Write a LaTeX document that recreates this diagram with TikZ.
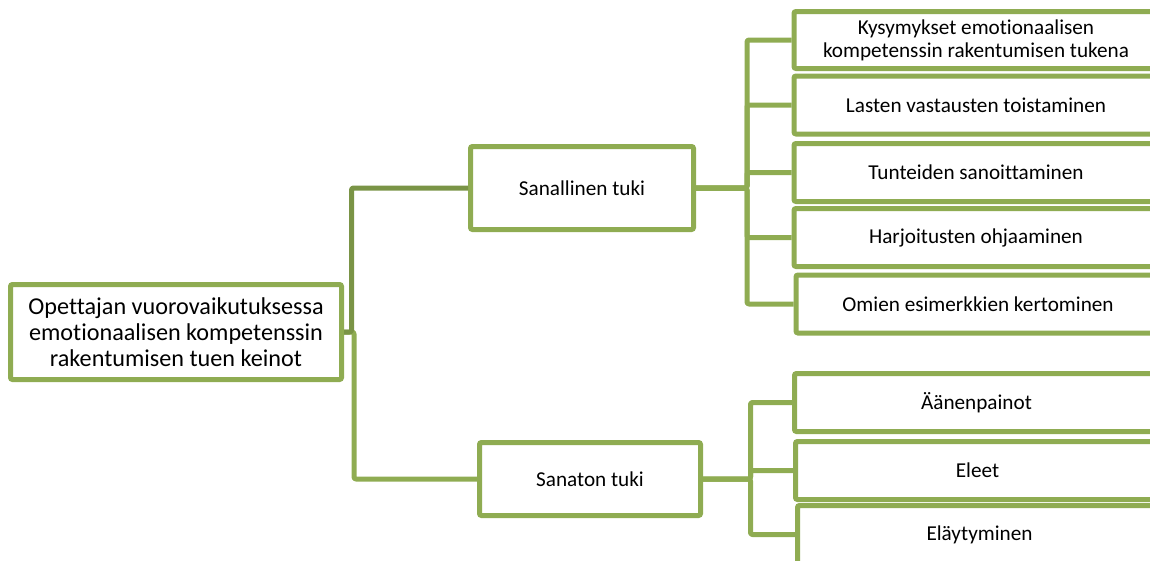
\documentclass[tikz,border=0pt]{standalone}
\usepackage{fontspec}
\setmainfont{Carlito}[RawFeature={-liga}]
\definecolor{boxgreen}{RGB}{143,172,82}
\definecolor{darkgreen}{RGB}{122,148,70}
\tikzset{
  box/.style={draw=boxgreen, line width=5pt, rounded corners=2pt, fill=white, align=center, inner sep=0pt, text=black},
  rootbox/.style={box, minimum width=331pt, minimum height=95pt, font=\fontsize{24.2}{26}\selectfont},
  midbox/.style={box, minimum width=223pt, minimum height=83pt, font=\fontsize{21.2}{23}\selectfont},
  leafbox/.style={box, minimum width=364pt, minimum height=58pt, font=\fontsize{21.2}{23}\selectfont},
  conn/.style={draw=boxgreen, line width=5pt, rounded corners=2pt, line join=round},
  darkconn/.style={conn, draw=darkgreen}
}
\begin{document}
\begin{tikzpicture}[x=1pt, y=-1pt]
\useasboundingbox (0,0) rectangle (1150,560);
\clip (0,0) rectangle (1150,560);
\node[rootbox] (root) at (176,332) {Opettajan vuorovaikutuksessa\\emotionaalisen kompetenssin\\rakentumisen tuen keinot};
\node[midbox] (sanal) at (582,188) {Sanallinen tuki};
\node[midbox, minimum width=221pt, minimum height=73pt] (sanat) at (590,479) {Sanaton tuki};
\node[leafbox, minimum height=57pt] (l1) at (976,40) {Kysymykset emotionaalisen\\kompetenssin rakentumisen tukena};
\node[leafbox] (l2) at (976,105) {Lasten vastausten toistaminen};
\node[leafbox] (l3) at (976,172.5) {Tunteiden sanoittaminen};
\node[leafbox] (l4) at (976,237.5) {Harjoitusten ohjaaminen};
\node[leafbox] (l5) at (978,304) {Omien esimerkkien kertominen};
\node[leafbox] (m1) at (976.5,402.5) {Äänenpainot};
\node[leafbox] (m2) at (977.5,470.5) {Eleet};
\node[leafbox] (m3) at (979.5,534.5) {Eläytyminen};
\draw[conn] (root.east) -- ++(10,0) |- (sanat.west);
\draw[darkconn] (root.east) -- ++(7.5,0) |- (sanal.west);
\foreach \n in {l1,l2,l3,l4,l5} {\draw[conn] (sanal.east) -- ++(51,0) |- (\n.west);}
\foreach \n in {m1,m2,m3} {\draw[conn] (sanat.east) -- ++(47.5,0) |- (\n.west);}
\end{tikzpicture}
\end{document}
